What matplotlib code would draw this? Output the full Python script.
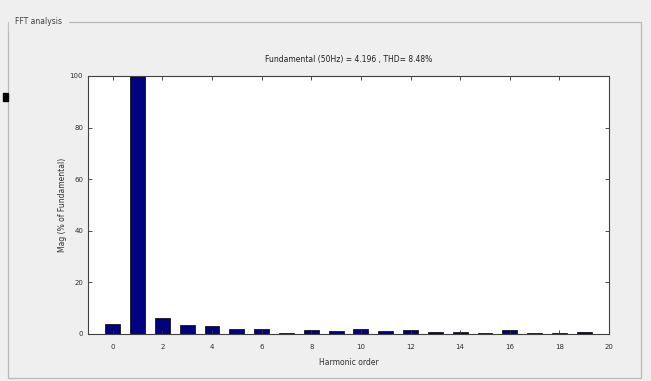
import matplotlib.pyplot as plt
from matplotlib.patches import Rectangle

# harmonic spectrum
harmonic_order = list(range(0, 21))
mag_percent = [4.0, 100.0, 6.2, 3.5, 3.0, 2.0, 2.0, 0.5, 1.5, 1.3, 1.8,
               1.1, 1.5, 0.6, 0.7, 0.3, 1.5, 0.3, 0.3, 0.8, 0.0]
x_ticks = list(range(0, 21, 2))
y_ticks = [0, 20, 40, 60, 80, 100]

title_text = "Fundamental (50Hz) = 4.196 , THD= 8.48%"
panel_title = "FFT analysis"

fig = plt.figure(figsize=(6.51, 3.81), dpi=100)
fig.patch.set_facecolor("#efefef")

# group-box frame around the plot
frame = Rectangle((8 / 651, 3 / 381), 633 / 651, 356 / 381, transform=fig.transFigure,
                  fill=False, edgecolor="#b8b8b8", linewidth=0.9)
fig.add_artist(frame)
fig.text(15 / 651, 1 - 21 / 381, panel_title, fontsize=5.5, color="#404040",
         va="center", ha="left", backgroundcolor="#efefef")
fig.add_artist(Rectangle((3 / 651, 1 - 101 / 381), 5 / 651, 8 / 381,
                         transform=fig.transFigure, color="black"))

ax = fig.add_axes([88 / 651, 47 / 381, 521 / 651, 258 / 381])
ax.set_facecolor("white")
ax.bar(harmonic_order, mag_percent, width=0.6, color="#000080",
       edgecolor="black", linewidth=0.5)

ax.set_xlim(-1, 20)
ax.set_ylim(0, 100)
ax.set_xticks(x_ticks)
ax.set_yticks(y_ticks)
ax.tick_params(direction="in", length=3, width=0.6, labelsize=5,
               top=True, right=True, colors="#303030")
ax.tick_params(axis="x", pad=7)
for s in ax.spines.values():
    s.set_linewidth(0.8)
    s.set_color("#404040")

ax.set_title(title_text, fontsize=5.5, pad=10, color="#202020")
ax.set_xlabel("Harmonic order", fontsize=5.5, labelpad=6, color="#303030")
ax.set_ylabel("Mag (% of Fundamental)", fontsize=5.5, labelpad=2, color="#303030")

fig.savefig("out.png", dpi=100, facecolor=fig.get_facecolor())
